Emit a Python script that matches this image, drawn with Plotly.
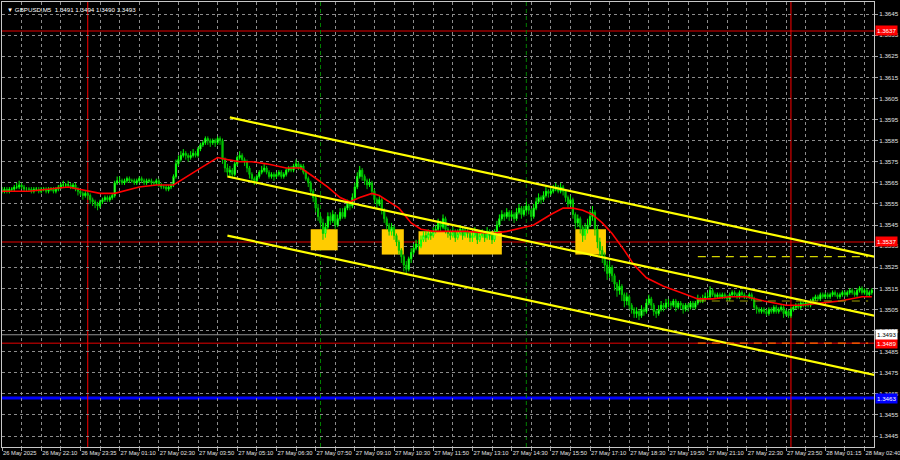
import plotly.graph_objects as go

# ---------------- data ----------------
symbol = "GBPUSD,M5"
last_ohlc = [1.3491, 1.3494, 1.3490, 1.3493]

# 5-minute bars, bar index 0 = 26 May 20:50
closes = [
    1.3561,1.3562,1.3561,1.3562,1.3562,1.3563,1.3563,1.3564,1.3563,1.3562,1.3562,1.3562,1.3561,1.3562,1.3562,1.3561,
    1.3562,1.3562,1.3561,1.3562,1.3562,1.3561,1.3562,1.3563,1.3564,1.3564,1.3564,1.3564,1.3563,1.3564,1.3562,1.3561,
    1.3560,1.3559,1.3560,1.3559,1.3557,1.3556,1.3555,1.3554,1.3556,1.3557,1.3558,1.3557,1.3558,1.3559,1.3565,1.3566,
    1.3566,1.3565,1.3566,1.3567,1.3566,1.3566,1.3565,1.3566,1.3567,1.3566,1.3565,1.3566,1.3566,1.3565,1.3565,1.3566,
    1.3564,1.3563,1.3563,1.3562,1.3563,1.3564,1.3568,1.3574,1.3576,1.3578,1.3579,1.3578,1.3577,1.3578,1.3579,1.3578,
    1.3581,1.3583,1.3584,1.3586,1.3585,1.3584,1.3585,1.3584,1.3586,1.3585,1.3576,1.3572,1.3570,1.3571,1.3569,1.3574,
    1.3577,1.3578,1.3576,1.3575,1.3572,1.3569,1.3567,1.3566,1.3568,1.3570,1.3571,1.3572,1.3570,1.3568,1.3569,1.3568,
    1.3569,1.3570,1.3568,1.3569,1.3571,1.3572,1.3571,1.3573,1.3574,1.3572,1.3573,1.3570,1.3567,1.3565,1.3561,1.3558,
    1.3553,1.3549,1.3546,1.3541,1.3544,1.3549,1.3547,1.3550,1.3545,1.3548,1.3551,1.3549,1.3553,1.3555,1.3554,1.3558,
    1.3563,1.3568,1.3571,1.3568,1.3566,1.3564,1.3565,1.3561,1.3557,1.3555,1.3557,1.3552,1.3548,1.3545,1.3542,1.3544,
    1.3540,1.3537,1.3533,1.3530,1.3526,1.3524,1.3529,1.3532,1.3534,1.3536,1.3535,1.3538,1.3540,1.3539,1.3541,1.3540,
    1.3542,1.3543,1.3546,1.3544,1.3548,1.3543,1.3541,1.3540,1.3542,1.3539,1.3541,1.3543,1.3540,1.3542,1.3541,1.3539,
    1.3540,1.3542,1.3538,1.3540,1.3541,1.3539,1.3542,1.3540,1.3538,1.3541,1.3545,1.3548,1.3550,1.3549,1.3551,1.3549,
    1.3550,1.3548,1.3551,1.3553,1.3550,1.3552,1.3554,1.3552,1.3549,1.3553,1.3556,1.3558,1.3557,1.3559,1.3561,1.3560,
    1.3561,1.3562,1.3563,1.3561,1.3563,1.3561,1.3558,1.3555,1.3557,1.3550,1.3546,1.3548,1.3544,1.3540,1.3543,1.3545,
    1.3549,1.3551,1.3543,1.3537,1.3533,1.3530,1.3526,1.3522,1.3525,1.3521,1.3517,1.3514,1.3516,1.3512,1.3509,1.3511,
    1.3507,1.3505,1.3503,1.3504,1.3502,1.3505,1.3504,1.3508,1.3510,1.3507,1.3504,1.3503,1.3505,1.3507,1.3506,1.3508,
    1.3508,1.3507,1.3509,1.3506,1.3508,1.3507,1.3505,1.3507,1.3506,1.3508,1.3506,1.3508,1.3510,1.3509,1.3510,1.3511,
    1.3511,1.3514,1.3512,1.3511,1.3512,1.3511,1.3512,1.3511,1.3510,1.3512,1.3513,1.3512,1.3511,1.3513,1.3512,1.3511,
    1.3511,1.3512,1.3510,1.3506,1.3505,1.3504,1.3505,1.3504,1.3503,1.3505,1.3504,1.3506,1.3504,1.3505,1.3506,1.3503,
    1.3504,1.3502,1.3505,1.3506,1.3507,1.3506,1.3508,1.3507,1.3508,1.3507,1.3509,1.3510,1.3511,1.3510,1.3512,1.3511,
    1.3512,1.3511,1.3512,1.3513,1.3512,1.3511,1.3512,1.3513,1.3512,1.3513,1.3514,1.3513,1.3512,1.3514,1.3515,1.3513,1.3514,1.3512,1.3513,1.3514,
]
highs = [
    1.3563,1.3563,1.3563,1.3563,1.3563,1.3564,1.3565,1.3566,1.3565,1.3564,1.3563,1.3563,1.3563,1.3563,1.3563,1.3563,
    1.3563,1.3563,1.3563,1.3563,1.3563,1.3563,1.3563,1.3564,1.3565,1.3566,1.3565,1.3566,1.3565,1.3565,1.3565,1.3563,
    1.3562,1.3561,1.3561,1.3561,1.3560,1.3558,1.3557,1.3556,1.3557,1.3558,1.3559,1.3559,1.3559,1.3560,1.3566,1.3568,
    1.3568,1.3567,1.3567,1.3568,1.3568,1.3567,1.3567,1.3567,1.3568,1.3568,1.3567,1.3567,1.3567,1.3567,1.3566,1.3567,
    1.3567,1.3565,1.3564,1.3564,1.3564,1.3565,1.3569,1.3576,1.3578,1.3580,1.3581,1.3580,1.3579,1.3580,1.3581,1.3580,
    1.3582,1.3584,1.3585,1.3587,1.3587,1.3586,1.3586,1.3586,1.3587,1.3587,1.3586,1.3577,1.3574,1.3573,1.3572,1.3575,
    1.3578,1.3580,1.3579,1.3577,1.3576,1.3573,1.3570,1.3568,1.3569,1.3571,1.3573,1.3574,1.3573,1.3571,1.3570,1.3570,
    1.3570,1.3571,1.3571,1.3570,1.3572,1.3573,1.3573,1.3574,1.3576,1.3575,1.3574,1.3574,1.3571,1.3568,1.3566,1.3562,
    1.3559,1.3555,1.3551,1.3548,1.3546,1.3551,1.3551,1.3552,1.3551,1.3550,1.3553,1.3553,1.3554,1.3557,1.3556,1.3560,
    1.3565,1.3570,1.3573,1.3572,1.3569,1.3567,1.3567,1.3566,1.3562,1.3558,1.3559,1.3558,1.3553,1.3549,1.3546,1.3546,
    1.3545,1.3541,1.3538,1.3534,1.3531,1.3528,1.3530,1.3534,1.3536,1.3538,1.3538,1.3540,1.3542,1.3542,1.3543,1.3542,
    1.3544,1.3545,1.3548,1.3547,1.3550,1.3549,1.3544,1.3543,1.3544,1.3543,1.3543,1.3545,1.3544,1.3544,1.3543,1.3542,
    1.3542,1.3544,1.3543,1.3542,1.3543,1.3542,1.3544,1.3543,1.3541,1.3543,1.3547,1.3550,1.3552,1.3551,1.3553,1.3552,
    1.3552,1.3551,1.3553,1.3555,1.3554,1.3554,1.3556,1.3555,1.3553,1.3555,1.3558,1.3560,1.3559,1.3561,1.3563,1.3562,
    1.3563,1.3564,1.3565,1.3564,1.3565,1.3564,1.3562,1.3559,1.3559,1.3558,1.3551,1.3550,1.3549,1.3545,1.3546,1.3548,
    1.3552,1.3554,1.3552,1.3545,1.3539,1.3535,1.3532,1.3528,1.3528,1.3526,1.3522,1.3518,1.3519,1.3517,1.3513,1.3513,
    1.3512,1.3508,1.3506,1.3506,1.3505,1.3507,1.3506,1.3510,1.3512,1.3511,1.3508,1.3505,1.3507,1.3509,1.3508,1.3510,
    1.3510,1.3509,1.3510,1.3510,1.3509,1.3509,1.3508,1.3508,1.3508,1.3509,1.3509,1.3509,1.3512,1.3511,1.3512,1.3513,
    1.3513,1.3516,1.3515,1.3513,1.3513,1.3513,1.3513,1.3513,1.3512,1.3513,1.3514,1.3514,1.3513,1.3514,1.3514,1.3513,
    1.3512,1.3513,1.3513,1.3511,1.3507,1.3506,1.3506,1.3506,1.3505,1.3506,1.3506,1.3507,1.3507,1.3506,1.3507,1.3507,
    1.3505,1.3505,1.3506,1.3507,1.3508,1.3508,1.3509,1.3509,1.3509,1.3509,1.3510,1.3511,1.3512,1.3512,1.3513,1.3513,
    1.3513,1.3513,1.3513,1.3514,1.3514,1.3513,1.3513,1.3514,1.3514,1.3514,1.3515,1.3515,1.3514,1.3515,1.3516,1.3516,1.3515,1.3515,1.3514,1.3515,
]
lows = [
    1.3560,1.3560,1.3560,1.3560,1.3561,1.3561,1.3562,1.3562,1.3562,1.3561,1.3561,1.3561,1.3560,1.3560,1.3561,1.3560,
    1.3560,1.3561,1.3560,1.3560,1.3561,1.3560,1.3560,1.3561,1.3562,1.3563,1.3563,1.3563,1.3562,1.3562,1.3561,1.3559,
    1.3559,1.3557,1.3558,1.3557,1.3555,1.3554,1.3553,1.3552,1.3553,1.3555,1.3556,1.3556,1.3556,1.3557,1.3558,1.3564,
    1.3565,1.3564,1.3564,1.3565,1.3565,1.3565,1.3564,1.3564,1.3565,1.3565,1.3564,1.3564,1.3565,1.3564,1.3564,1.3564,
    1.3563,1.3562,1.3562,1.3561,1.3561,1.3562,1.3563,1.3567,1.3573,1.3575,1.3577,1.3576,1.3575,1.3576,1.3577,1.3577,
    1.3577,1.3580,1.3582,1.3583,1.3583,1.3582,1.3583,1.3582,1.3583,1.3583,1.3574,1.3570,1.3568,1.3568,1.3567,1.3568,
    1.3573,1.3576,1.3575,1.3573,1.3570,1.3567,1.3565,1.3564,1.3565,1.3567,1.3569,1.3570,1.3569,1.3567,1.3567,1.3566,
    1.3567,1.3568,1.3567,1.3567,1.3568,1.3570,1.3570,1.3570,1.3572,1.3571,1.3571,1.3569,1.3566,1.3563,1.3559,1.3556,
    1.3551,1.3547,1.3544,1.3538,1.3539,1.3543,1.3545,1.3546,1.3543,1.3544,1.3547,1.3548,1.3548,1.3552,1.3552,1.3553,
    1.3557,1.3562,1.3567,1.3566,1.3564,1.3562,1.3563,1.3559,1.3555,1.3553,1.3554,1.3550,1.3546,1.3543,1.3540,1.3540,
    1.3538,1.3535,1.3531,1.3527,1.3523,1.3522,1.3523,1.3527,1.3531,1.3533,1.3533,1.3534,1.3537,1.3537,1.3538,1.3538,
    1.3539,1.3541,1.3542,1.3542,1.3543,1.3541,1.3539,1.3538,1.3539,1.3537,1.3538,1.3540,1.3538,1.3539,1.3539,1.3537,
    1.3537,1.3539,1.3536,1.3537,1.3539,1.3537,1.3538,1.3538,1.3536,1.3537,1.3540,1.3544,1.3547,1.3547,1.3548,1.3547,
    1.3548,1.3546,1.3547,1.3550,1.3548,1.3549,1.3551,1.3550,1.3547,1.3548,1.3552,1.3555,1.3555,1.3556,1.3558,1.3558,
    1.3559,1.3560,1.3561,1.3560,1.3560,1.3559,1.3556,1.3553,1.3554,1.3548,1.3543,1.3544,1.3541,1.3537,1.3538,1.3541,
    1.3544,1.3547,1.3540,1.3534,1.3530,1.3527,1.3523,1.3519,1.3520,1.3518,1.3514,1.3511,1.3512,1.3509,1.3506,1.3507,
    1.3505,1.3503,1.3501,1.3501,1.3500,1.3501,1.3502,1.3503,1.3507,1.3505,1.3502,1.3501,1.3502,1.3504,1.3504,1.3505,
    1.3506,1.3505,1.3506,1.3504,1.3505,1.3505,1.3503,1.3504,1.3504,1.3505,1.3505,1.3505,1.3507,1.3508,1.3508,1.3509,
    1.3510,1.3510,1.3511,1.3510,1.3510,1.3510,1.3510,1.3510,1.3509,1.3509,1.3511,1.3511,1.3510,1.3510,1.3511,1.3510,
    1.3510,1.3510,1.3509,1.3505,1.3503,1.3503,1.3503,1.3503,1.3502,1.3502,1.3503,1.3503,1.3503,1.3503,1.3504,1.3501,
    1.3502,1.3501,1.3501,1.3504,1.3505,1.3505,1.3505,1.3506,1.3506,1.3506,1.3506,1.3508,1.3509,1.3509,1.3509,1.3510,
    1.3510,1.3510,1.3510,1.3511,1.3511,1.3510,1.3510,1.3511,1.3511,1.3511,1.3512,1.3512,1.3511,1.3511,1.3513,1.3512,1.3512,1.3511,1.3511,1.3512,
]
first_open = 1.3561

# moving average (red line) read at bar indices
ma_idx = [0, 11, 27, 35, 40, 46, 56, 63, 70, 81, 88, 92, 97, 102, 108, 116, 122, 127, 133, 138, 142, 146,
          151, 154, 158, 162, 167, 171, 176, 190, 200, 206, 217, 224, 229, 233, 237, 241, 245, 249, 254,
          258, 263, 270, 277, 284, 290, 297, 304, 311, 320, 326, 334, 342, 351, 355]
ma_val = [1.3561, 1.3561, 1.3563, 1.3561, 1.3560, 1.3560, 1.3563, 1.3564, 1.3564, 1.3572, 1.3577, 1.3576,
          1.3575, 1.3575, 1.3574, 1.3572, 1.3572, 1.3568, 1.3563, 1.3558, 1.3556, 1.3558, 1.3560, 1.3559,
          1.3556, 1.3553, 1.3546, 1.3543, 1.3542, 1.3542, 1.3541, 1.3542, 1.3545, 1.3550, 1.3553, 1.3553,
          1.3552, 1.3550, 1.3546, 1.3541, 1.3533, 1.3526, 1.3520, 1.3516, 1.3513, 1.3510, 1.3510, 1.3511,
          1.3511, 1.3509, 1.3507, 1.3507, 1.3508, 1.3509, 1.3511, 1.3511]

# time axis
time_labels = ["26 May 2025", "26 May 22:10", "26 May 23:35", "27 May 01:10", "27 May 02:30", "27 May 03:50",
               "27 May 05:10", "27 May 06:30", "27 May 07:50", "27 May 09:10", "27 May 10:30", "27 May 11:50",
               "27 May 13:10", "27 May 14:30", "27 May 15:50", "27 May 17:10", "27 May 18:30", "27 May 19:50",
               "27 May 21:10", "27 May 22:30", "27 May 23:50", "28 May 01:15", "28 May 02:40"]
label_every = 16
grid_every = 8

# levels
red_levels = [1.3637, 1.3537, 1.3489]
blue_level = 1.3463
bid_price = 1.3493

# vertical markers (bar index)
day_marks = [35, 322]
session_marks = [130, 214]

# trend channel: [start index, start price, end index, end price]
channel_upper = [93, 1.3596, 356, 1.3530]
channel_mid = [92, 1.3568, 356, 1.3502]
channel_lower = [92, 1.3540, 356, 1.3474]

# target dashed levels
target_start, target_end = 284, 353.5
target_yellow = 1.3530
target_olive = 1.3509
target_orange = 1.3489

# signal boxes
box_start = [126, 155, 170, 234]
box_end = [137, 164, 204, 246.5]
box_low = [1.3533, 1.3531, 1.3531, 1.3531]
box_high = [1.3543, 1.3543, 1.3542, 1.3543]

# ---------------- figure ----------------
n = len(closes)
idx = list(range(n))
opens = [first_open] + closes[:-1]

FONT = "Liberation Sans"
FS = 6.2
FSX = 5.8
fig = go.Figure()

fig.add_trace(go.Candlestick(
    x=idx, open=opens, high=highs, low=lows, close=closes,
    increasing=dict(line=dict(color="#00ff00", width=1), fillcolor="#b4ffb4"),
    decreasing=dict(line=dict(color="#00c800", width=1), fillcolor="#00a800"),
    whiskerwidth=0, showlegend=False, hoverinfo="skip"))

fig.add_trace(go.Scatter(x=ma_idx, y=ma_val, mode="lines",
                         line=dict(color="#ff0000", width=1.6), showlegend=False, hoverinfo="skip"))

for ch in (channel_upper, channel_mid, channel_lower):
    fig.add_trace(go.Scatter(x=[ch[0], ch[2]], y=[ch[1], ch[3]], mode="lines",
                             line=dict(color="#ffff00", width=2.2), showlegend=False, hoverinfo="skip"))

for lvl, col in ((target_yellow, "#d4d400"), (target_olive, "#a0a000"), (target_orange, "#ff6a00")):
    fig.add_trace(go.Scatter(x=[target_start, target_end], y=[lvl, lvl], mode="lines",
                             line=dict(color=col, width=1.2, dash="8px,6px"), showlegend=False, hoverinfo="skip"))

shapes = []
for s, e, lo, hi in zip(box_start, box_end, box_low, box_high):
    shapes.append(dict(type="rect", xref="x", yref="y", x0=s, x1=e, y0=lo, y1=hi,
                       fillcolor="#ffcc00", line=dict(width=0), layer="between"))
for lvl in red_levels:
    shapes.append(dict(type="line", xref="paper", x0=0, x1=1, yref="y", y0=lvl, y1=lvl,
                       line=dict(color="#9a0000", width=1.5), layer="between"))
shapes.append(dict(type="line", xref="paper", x0=0, x1=1, yref="y", y0=bid_price, y1=bid_price,
                   line=dict(color="#909090", width=1), layer="between"))
shapes.append(dict(type="line", xref="paper", x0=0, x1=1, yref="y", y0=blue_level, y1=blue_level,
                   line=dict(color="#0000ff", width=3), layer="between"))
for d in day_marks:
    shapes.append(dict(type="line", xref="x", x0=d, x1=d, yref="paper", y0=0, y1=1,
                       line=dict(color="#ff0000", width=1), layer="between"))
for d in session_marks:
    shapes.append(dict(type="line", xref="x", x0=d, x1=d, yref="paper", y0=0, y1=1,
                       line=dict(color="#008000", width=1, dash="4px,3px"), layer="between"))

annotations = []
def price_label(y, text, bg, fg):
    annotations.append(dict(x=1, xref="paper", xanchor="left", xshift=1, y=y, yref="y", yanchor="middle",
                            text=text, showarrow=False, bgcolor=bg, borderpad=1,
                            font=dict(family=FONT, size=FS, color=fg)))
for lvl in red_levels:
    price_label(lvl, f"{lvl:.4f}", "#ff0000", "#ffffff")
price_label(bid_price, f"{bid_price:.4f}", "#ffffff", "#000000")
price_label(blue_level, f"{blue_level:.4f}", "#0000ff", "#ffffff")

annotations.append(dict(x=0, xref="paper", xanchor="left", xshift=3, y=1, yref="paper", yanchor="top", yshift=-2,
                        text="▼ " + symbol + "  " + " ".join(f"{v:.4f}" for v in last_ohlc),
                        showarrow=False, font=dict(family=FONT, size=FS, color="#ffffff")))

tickvals = list(range(0, 353, grid_every))
ticktext = [time_labels[v // label_every] if v % label_every == 0 else "" for v in tickvals]

fig.update_layout(
    width=900, height=460,
    margin=dict(l=2, r=26, t=2, b=13, autoexpand=False),
    paper_bgcolor="#000000", plot_bgcolor="#000000",
    shapes=shapes, annotations=annotations,
    xaxis=dict(range=[0, 355.9], tickvals=tickvals, ticktext=ticktext, ticklabelposition="outside right",
               ticklabeloverflow="allow", tickangle=0, automargin=False,
               showgrid=True, gridcolor="#8c8c8c", griddash="3px,3px", gridwidth=1,
               ticks="outside", ticklen=3, tickcolor="#a0a0a0",
               showline=True, linecolor="#c8c8c8", mirror=True, linewidth=1,
               rangeslider=dict(visible=False), zeroline=False,
               tickfont=dict(family=FONT, size=FSX, color="#e0e0e0")),
    yaxis=dict(range=[1.34398, 1.36507], side="right", tick0=1.3445, dtick=0.001, tickformat=".4f",
               automargin=False,
               showgrid=True, gridcolor="#8c8c8c", griddash="3px,3px", gridwidth=1,
               ticks="outside", ticklen=3, tickcolor="#a0a0a0",
               showline=True, linecolor="#c8c8c8", mirror=True, linewidth=1, zeroline=False,
               tickfont=dict(family=FONT, size=FS, color="#e0e0e0")),
    hovermode=False,
)

fig.write_html("out.html", config={"displayModeBar": False},
               post_script="document.body.style.margin='0';document.body.style.overflow='hidden';")
